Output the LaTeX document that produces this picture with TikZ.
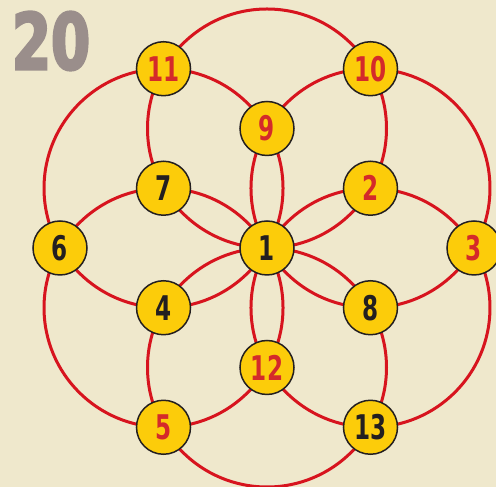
\documentclass[tikz,border=0pt]{standalone}
\usepackage{fontspec}
\usepackage{xcolor}
\usepackage{tikz}
\usetikzlibrary{backgrounds}

\newfontfamily\digitfont[FakeStretch=0.68]{DejaVu Sans}
\newfontfamily\badgefont[FakeStretch=0.72, BoldFeatures={FakeBold=3}]{DejaVu Sans}

\definecolor{paper}{HTML}{EFE8CC}
\definecolor{ringred}{HTML}{D7141E}
\definecolor{discyellow}{HTML}{FCCC0A}
\definecolor{numred}{HTML}{D42A2A}
\definecolor{numdark}{HTML}{231F20}
\definecolor{badgegray}{HTML}{9A8E8B}

\begin{document}
\begin{tikzpicture}[
		x=1pt, y=1pt,
		ring/.style={
			draw=ringred,
			line width=3pt
		},
		disc/.style={
			circle,
			draw=numdark,
			line width=1.5pt,
			fill=discyellow,
			minimum size=54pt,
			inner sep=0pt,
			font=\digitfont\bfseries\fontsize{34}{34}\selectfont
		},
		hotdisc/.style={disc, text=numred},
		colddisc/.style={disc, text=numdark}
		]
		
		\useasboundingbox (0,0) rectangle (496,487);
		
		% Puzzle number
		\node[text=badgegray, font=\badgefont\bfseries\fontsize{78}{78}\selectfont] (badge) at (51,446) {20};
		
		% Centre
		\node[colddisc] (one) at (267,239) {1};
		
		% Inner ring (centres of the circles)
		\path (one) ++(30:119.5) node[hotdisc] (two) {2};
		\path (one) ++(90:119.5) node[hotdisc] (nine) {9};
		\path (one) ++(150:119.5) node[colddisc] (seven) {7};
		\path (one) ++(210:119.5) node[colddisc] (four) {4};
		\path (one) ++(270:119.5) node[hotdisc] (twelve) {12};
		\path (one) ++(330:119.5) node[colddisc] (eight) {8};
		
		% Outer ring
		\path (one) ++(0:207) node[hotdisc] (three) {3};
		\path (one) ++(60:207) node[hotdisc] (ten) {10};
		\path (one) ++(120:207) node[hotdisc] (eleven) {11};
		\path (one) ++(180:207) node[colddisc] (six) {6};
		\path (one) ++(240:207) node[hotdisc] (five) {5};
		\path (one) ++(300:207) node[colddisc] (thirteen) {13};
		
		% Paper and circles
		\begin{scope}[on background layer]
			\fill[paper] (0,0) rectangle (496,487);
			\foreach \c in {two,nine,seven,four,twelve,eight}
			\draw[ring] (\c.center) circle[radius=119.5];
		\end{scope}
		
	\end{tikzpicture}
\end{document}
